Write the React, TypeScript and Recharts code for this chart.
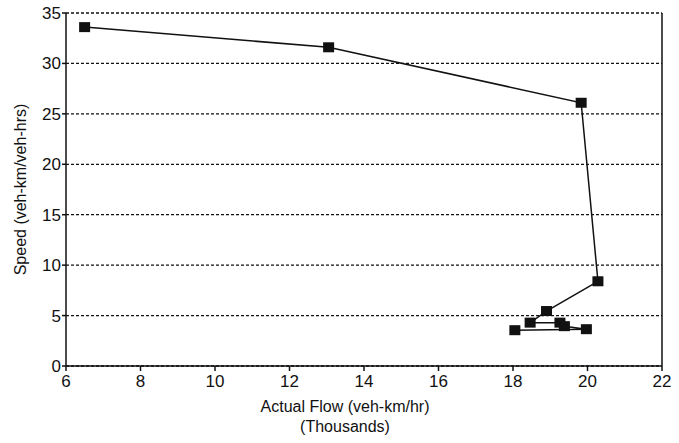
import React from 'react';
import { ScatterChart, Scatter, XAxis, YAxis, CartesianGrid, ReferenceLine } from 'recharts';

const flowThousands = [6.5, 13.05, 19.83, 20.28, 18.9, 18.46, 19.26, 19.38, 19.97, 18.05];
const speed = [33.6, 31.6, 26.1, 8.4, 5.45, 4.3, 4.3, 3.95, 3.65, 3.55];
const xTicks = [6, 8, 10, 12, 14, 16, 18, 20, 22];
const yTicks = [0, 5, 10, 15, 20, 25, 30, 35];

const points = flowThousands.map((x, i) => ({ x, y: speed[i] }));

const font = 'Liberation Sans, Arial, sans-serif';

const SquareDot = (props: any) => {
  const { cx, cy } = props;
  if (cx == null || cy == null) return null;
  return <rect x={cx - 5.5} y={cy - 5} width={11} height={10} fill="#111" />;
};

const XLabel = (props: any) => {
  const { viewBox } = props;
  const cx = viewBox.x + viewBox.width / 2 - 19;
  return (
    <text textAnchor="middle" fontSize={16} fill="#111" fontFamily={font}>
      <tspan x={cx} y={viewBox.y + 46}>Actual Flow (veh-km/hr)</tspan>
      <tspan x={cx} y={viewBox.y + 66}>(Thousands)</tspan>
    </text>
  );
};

export default function App() {
  const tick = { fontSize: 17, fill: '#111', fontFamily: font };
  return (
    <div style={{ position: 'absolute', left: 0, top: 0, background: '#fff' }}>
      <ScatterChart width={679} height={443} margin={{ top: 13, right: 17, bottom: 0, left: 0 }}>
        <CartesianGrid vertical={false} stroke="#111" strokeDasharray="3 2" strokeWidth={1.3} />
        <XAxis
          type="number"
          dataKey="x"
          domain={[6, 22]}
          ticks={xTicks}
          allowDataOverflow
          stroke="#111"
          strokeWidth={1.5}
          tickSize={5}
          tickMargin={4}
          tick={tick}
          height={77}
          label={<XLabel />}
        />
        <YAxis
          type="number"
          dataKey="y"
          domain={[0, 35]}
          ticks={yTicks}
          stroke="#111"
          strokeWidth={1.5}
          tickSize={4}
          tickMargin={1}
          tick={tick}
          width={66}
          label={{
            value: 'Speed (veh-km/veh-hrs)',
            angle: -90,
            position: 'insideLeft',
            offset: 20,
            style: { textAnchor: 'middle', fontSize: 16, fill: '#111', fontFamily: font },
          }}
        />
        <ReferenceLine x={22} stroke="#111" strokeWidth={1.5} />
        <Scatter
          data={points}
          line={{ stroke: '#111', strokeWidth: 1.5 }}
          lineType="joint"
          shape={<SquareDot />}
          isAnimationActive={false}
        />
      </ScatterChart>
    </div>
  );
}
